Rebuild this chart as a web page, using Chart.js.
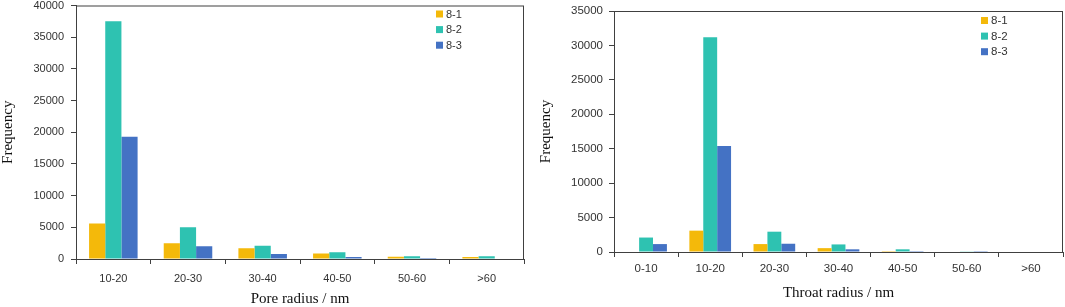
<!DOCTYPE html>
<html>
<head>
<meta charset="utf-8">
<script src="https://cdn.jsdelivr.net/npm/chart.js@4/dist/chart.umd.min.js"></script>
<style>
  html, body { margin: 0; padding: 0; background: #fff; }
  #wrap { position: relative; width: 1065px; height: 307px; }
  .box { position: absolute; top: 0; width: 530px; height: 307px; }
</style>
</head>
<body>
<div id="wrap">
  <div class="box" style="left:0"><canvas id="pore"></canvas></div>
  <div class="box" style="left:535px"><canvas id="throat"></canvas></div>
</div>
<script>
// ---------------------------------------------------------------------
// Data
// ---------------------------------------------------------------------
const seriesNames = ["8-1", "8-2", "8-3"];
const seriesColors = ["#F4B90A", "#2EC2B1", "#4472C4"];

const poreLabels = ["10-20", "20-30", "30-40", "40-50", "50-60", ">60"];
const pore81 = [5600, 2500, 1700, 870, 350, 320];
const pore82 = [37500, 5000, 2100, 1060, 450, 420];
const pore83 = [19300, 2000, 780, 320, 150, 0];
const poreTicks = [0, 5000, 10000, 15000, 20000, 25000, 30000, 35000, 40000];

const throatLabels = ["0-10", "10-20", "20-30", "30-40", "40-50", "50-60", ">60"];
const throat81 = [0, 3100, 1150, 560, 130, 0, 0];
const throat82 = [2100, 31200, 2950, 1100, 390, 100, 0];
const throat83 = [1150, 15400, 1200, 390, 130, 20, 0];
const throatTicks = [0, 5000, 10000, 15000, 20000, 25000, 30000, 35000];

const AXIS = "#404040";
const SANS = "'Liberation Sans', Arial, sans-serif";
const SERIF = "'Liberation Serif', 'Times New Roman', serif";

// frame around the plot area + legend inside the top-right corner
const framePlugin = {
  id: "frame",
  afterDraw(chart, args, opts) {
    const { ctx, chartArea: a } = chart;
    ctx.save();
    ctx.strokeStyle = AXIS;
    ctx.lineWidth = 1;
    ctx.strokeRect(a.left + 0.5, a.top + 0.5, a.right - a.left - 1, a.bottom - a.top);

    ctx.font = opts.fontSize + "px " + SANS;
    ctx.textBaseline = "middle";
    chart.data.datasets.forEach((ds, i) => {
      const y = a.top + opts.top + i * 15.6;
      const x = a.right - opts.right;
      ctx.fillStyle = ds.backgroundColor;
      ctx.fillRect(x, y - 3.5, 7, 7);
      ctx.fillStyle = "#333";
      ctx.fillText(ds.label, x + 10, y + 0.5);
    });
    ctx.restore();
  }
};

function makeChart(id, labels, values, ticks, xTitle, geo) {
  const datasets = values.map((v, i) => ({
    label: seriesNames[i],
    data: v,
    backgroundColor: seriesColors[i],
    borderWidth: 0,
    categoryPercentage: 0.65,
    barPercentage: 1
  }));

  return new Chart(document.getElementById(id), {
    type: "bar",
    data: { labels, datasets },
    plugins: [framePlugin],
    options: {
      responsive: false,
      animation: false,
      events: [],
      layout: { padding: { left: 0, right: geo.padRight, top: geo.padTop, bottom: 0 } },
      plugins: {
        legend: { display: false },
        tooltip: { enabled: false },
        frame: { top: geo.legTop, right: geo.legRight, fontSize: geo.fontSize }
      },
      scales: {
        x: {
          offset: true,
          grid: { display: true, offset: true, drawOnChartArea: false, tickLength: 5, color: AXIS },
          border: { display: true, color: AXIS, width: 1 },
          ticks: { color: "#333", font: { family: SANS, size: geo.fontSize }, padding: geo.xTickPad, maxRotation: 0 },
          title: {
            display: true, text: xTitle, color: "#111",
            font: { family: SERIF, size: 15, lineHeight: 1 },
            padding: { top: geo.xTitlePad, bottom: geo.xTitlePad }
          },
          afterFit(s) {
            s.height = geo.xHeight;
            s.paddingLeft = 0; s.paddingRight = 0;
          }
        },
        y: {
          min: 0,
          max: ticks[ticks.length - 1],
          afterBuildTicks(s) { s.ticks = ticks.map((v) => ({ value: v })); },
          grid: { display: true, drawOnChartArea: false, tickLength: 5, color: AXIS },
          border: { display: true, color: AXIS, width: 1 },
          ticks: {
            color: "#333", font: { family: SANS, size: geo.fontSize }, padding: geo.yTickPad,
            callback: (v) => String(v)
          },
          title: {
            display: true, text: "Frequency", color: "#111",
            font: { family: SERIF, size: 15, lineHeight: 1 },
            padding: { top: geo.yTitlePad, bottom: geo.yTitlePad }
          },
          afterFit(s) {
            s.width = geo.yWidth;
            s.paddingTop = 0; s.paddingBottom = 0;
          }
        }
      }
    }
  });
}

function sizeCanvas(id) {
  const c = document.getElementById(id);
  c.width = 530; c.height = 307;
  c.style.width = "530px"; c.style.height = "307px";
}
sizeCanvas("pore");
sizeCanvas("throat");

makeChart("pore", poreLabels, [pore81, pore82, pore83], poreTicks, "Pore radius / nm", {
  padRight: 6, padTop: 5.5, xHeight: 48, yWidth: 76, xTitlePad: 0, yTitlePad: 1,
  yTickPad: 7, xTickPad: 8, legTop: 8.5, legRight: 88, fontSize: 11
});
makeChart("throat", throatLabels, [throat81, throat82, throat83], throatTicks, "Throat radius / nm", {
  padRight: 2, padTop: 11, xHeight: 55, yWidth: 79, xTitlePad: 6.5, yTitlePad: 4,
  yTickPad: 6, xTickPad: 5, legTop: 9.5, legRight: 82, fontSize: 11.5
});
</script>
</body>
</html>
